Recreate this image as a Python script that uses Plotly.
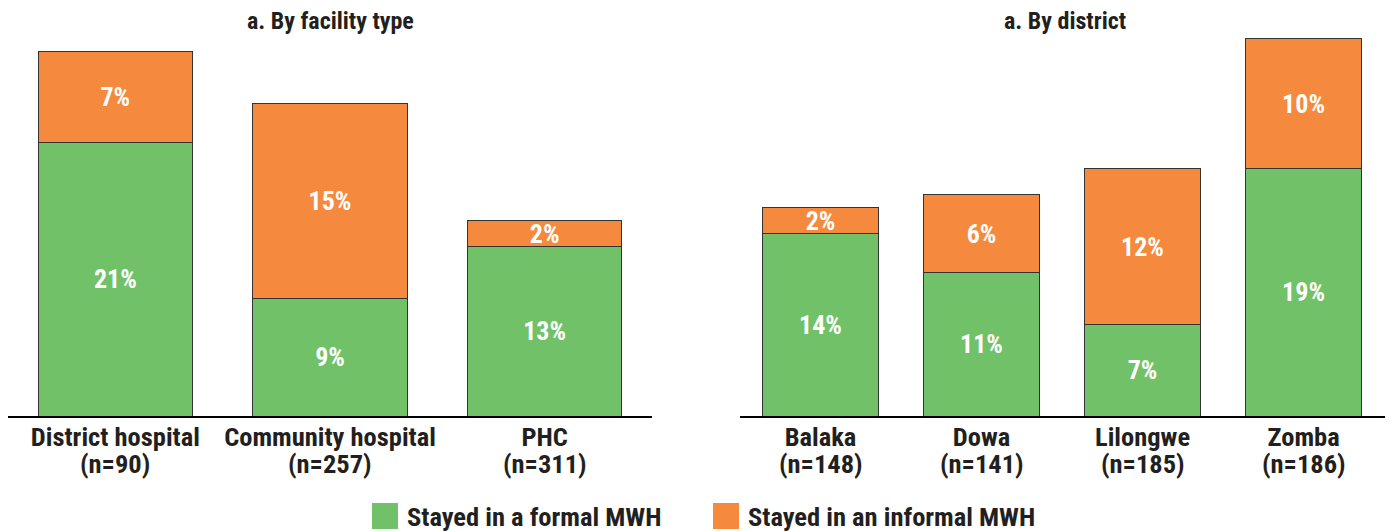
import plotly.graph_objects as go

# ---- data ----
facility_names = ["District hospital", "Community hospital", "PHC"]
facility_n = [90, 257, 311]
facility_formal = [21, 9, 13]
facility_informal = [7, 15, 2]

district_names = ["Balaka", "Dowa", "Lilongwe", "Zomba"]
district_n = [148, 141, 185, 186]
district_formal = [14, 11, 7, 19]
district_informal = [2, 6, 12, 10]

series_names = ["Stayed in a formal MWH", "Stayed in an informal MWH"]
panel_titles = ["a. By facility type", "a. By district"]

# ---- style ----
GREEN = "#70C167"
ORANGE = "#F5893D"
OUTLINE = "#333333"
FONT = "Roboto Condensed, Roboto, Arial Narrow, sans-serif"
TXT = "#231F20"

OFF = 8  # page body margin
W, H = 1393 - OFF, 531 - OFF
ML, MR, MT, MB = 0, 3, 28, 115
PW = W - ML - MR
PH = H - MT - MB


def px_x(p):
    return (p - OFF - ML) / PW


def px_y(p):
    return (H - MB - (p - OFF)) / PH


fig = go.Figure()


def add_bars(names, formal, informal, xa, ya):
    for vals, name, col in [(formal, series_names[0], GREEN), (informal, series_names[1], ORANGE)]:
        fig.add_trace(go.Bar(
            x=names, y=vals, name=name, xaxis=xa, yaxis=ya,
            marker=dict(color=col, line=dict(color=OUTLINE, width=1)),
            width=0.72,
            texttemplate="%{y}%", textposition="inside", insidetextanchor="middle",
            constraintext="none", textangle=0,
            textfont=dict(family=FONT, size=26, color="white", weight="bold"),
            showlegend=False, hoverinfo="skip",
        ))


add_bars(facility_names, facility_formal, facility_informal, "x", "y")
add_bars(district_names, district_formal, district_informal, "x2", "y2")

TICK_SIZE = 26.5
axis_common = dict(
    showline=True, linecolor="black", linewidth=2, ticks="", showgrid=False,
    zeroline=False, tickfont=dict(family=FONT, size=TICK_SIZE, color=TXT, weight="bold"),
    ticklabelstandoff=-4,
    fixedrange=True,
)
yaxis_common = dict(range=[0, 29.2], visible=False, showgrid=False, fixedrange=True)

fig.update_layout(
    width=W, height=H,
    margin=dict(l=ML, r=MR, t=MT, b=MB),
    paper_bgcolor="white", plot_bgcolor="white",
    barmode="stack",
    showlegend=False,
    xaxis=dict(domain=[0, px_x(652)], range=[-0.5, 2.5], anchor="y", **axis_common),
    xaxis2=dict(domain=[px_x(740), 1], range=[-0.5, 3.537], anchor="y2", **axis_common),
    yaxis=dict(anchor="x", domain=[0, 1], **yaxis_common),
    yaxis2=dict(anchor="x2", domain=[0, 1], **yaxis_common),
)

# sample size second line under each category
for xr, names, ns in [("x", facility_names, facility_n), ("x2", district_names, district_n)]:
    for nm, n in zip(names, ns):
        fig.add_annotation(x=nm, xref=xr, y=px_y(463), yref="paper", text=f"(n={n})",
                           showarrow=False, xanchor="center", yanchor="middle",
                           font=dict(family=FONT, size=TICK_SIZE, color=TXT, weight="bold"))

# panel titles
for xr, t in zip(["x domain", "x2 domain"], panel_titles):
    fig.add_annotation(x=0.5, xref=xr, y=px_y(21), yref="paper", text=t, showarrow=False,
                       xanchor="center", yanchor="middle",
                       font=dict(family=FONT, size=24, color=TXT, weight="bold"))

# custom legend
legend_items = [(372, GREEN, series_names[0]), (713, ORANGE, series_names[1])]
for x0, col, name in legend_items:
    fig.add_shape(type="rect", xref="paper", yref="paper",
                  x0=px_x(x0), x1=px_x(x0 + 26), y0=px_y(529), y1=px_y(503),
                  fillcolor=col, line=dict(width=0))
    fig.add_annotation(x=px_x(x0 + 33), xref="paper", y=px_y(516), yref="paper", text=name,
                       showarrow=False, xanchor="left", yanchor="middle",
                       font=dict(family=FONT, size=26.5, color=TXT, weight="bold"))

fig.write_html("out.html")
